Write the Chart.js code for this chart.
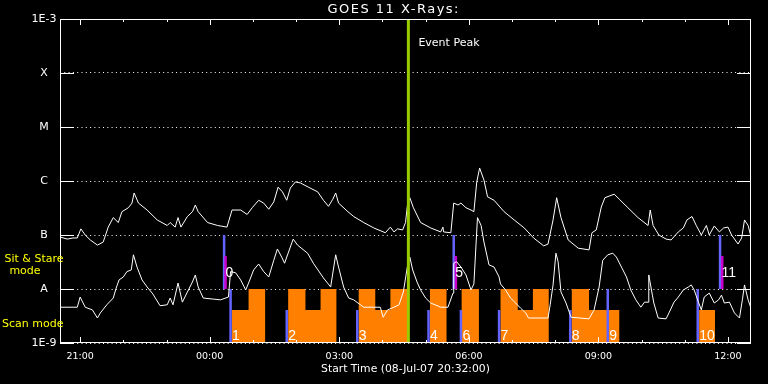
<!DOCTYPE html>
<html>
<head>
<meta charset="utf-8">
<title>GOES 11 X-Rays</title>
<script src="https://cdn.jsdelivr.net/npm/chart.js@4.4.1/dist/chart.umd.min.js"></script>
<style>
  html, body { margin: 0; padding: 0; background: #000; }
  canvas { display: block; background: #000; }
</style>
</head>
<body>
<canvas id="xrays" width="768" height="384"></canvas>
<script>
// time = minutes after the start (08-Jul-07 20:32:00), flux in W/m^2

// long channel (upper curve)
const longTimes = [0,10,18,24,29,35,42,52,60,67, 74,81,86,95,100,103,109,121,135,149,
  153,160,164,168,177,184,188,192,205,219, 232,239,251,260,267,276,283,290,297,303,
  309,315,320,327,334,345,358,366,373,379, 383,387,400,408,422,436,452,459,464,469,
  476,480,483,486,491,501,515,529,532,533, 543,547,553,557,564,571,575,579,583,589,
  594,603,617,631,645,658,672,678,685,690, 696,706,720,735,739,745,752,757,770,777,
  789,803,817,820,824,832,842,849,859,866, 871,878,884,891,898,902,909,916,922,928,
  933,942,947,951,956,960];
const longFlux = [9.2e-8,8.4e-8,8.8e-8,8.8e-8,1.3e-7,1.0e-7,8.1e-8,6.5e-8,7.4e-8,1.4e-7,
  2.1e-7,1.7e-7,2.7e-7,3.2e-7,3.9e-7,6.0e-7,3.9e-7,2.9e-7,1.9e-7,1.5e-7,
  1.7e-7,1.4e-7,2.1e-7,1.4e-7,2.2e-7,2.7e-7,3.6e-7,2.7e-7,1.7e-7,1.5e-7,
  1.4e-7,2.9e-7,2.9e-7,2.4e-7,3.2e-7,4.4e-7,3.9e-7,3.0e-7,4.1e-7,7.7e-7,
  6.3e-7,4.4e-7,7.4e-7,9.6e-7,9.2e-7,7.7e-7,6.3e-7,4.4e-7,3.4e-7,4.6e-7,
  6.0e-7,3.9e-7,2.7e-7,2.2e-7,1.7e-7,1.35e-7,1.1e-7,1.4e-7,1.14e-7,1.3e-7,
  1.24e-7,1.7e-7,3.9e-7,4.9e-7,3.2e-7,1.7e-7,1.35e-7,1.14e-7,1.4e-7,1.14e-7,
  1.1e-7,3.9e-7,3.6e-7,3.9e-7,3.2e-7,2.9e-7,2.7e-7,9.6e-7,1.74e-6,1.04e-6,
  5.1e-7,4.4e-7,2.7e-7,1.9e-7,1.35e-7,8.8e-8,6.3e-8,6.8e-8,1.9e-7,4.9e-7,
  2.1e-7,8.1e-8,5.7e-8,5.3e-8,1.1e-7,1.24e-7,3.3e-7,4.9e-7,5.7e-7,4.6e-7,
  3.2e-7,2.1e-7,1.5e-7,2.9e-7,1.5e-7,1.0e-7,8.4e-8,8.1e-8,1.14e-7,1.35e-7,
  1.9e-7,2.2e-7,1.5e-7,1.0e-7,1.5e-7,1.0e-7,1.47e-7,1.14e-7,1.35e-7,1.4e-7,
  1.0e-7,6.8e-8,8.8e-8,1.9e-7,1.5e-7,9.2e-8];

// short channel (lower curve)
const shortTimes = [0,24,28,35,45,52,56,65,74,78, 82,88,93,99,102,107,114,121,129,139,
  149,153,157,164,170,177,184,188,192,199, 213,223,234,237,244,251,258,262,269,276,
  283,290,297,302,308,312,320,324,330,344, 352,366,376,383,387,394,401,408,414,422,
  445,449,455,464,471,477,483,486,490,496, 501,508,515,529,539,546,547,551,557,564,
  571,575,580,585,589,596,603,610,612,619, 626,633,640,647,651,678,681,685,689,692,
  696,703,710,735,742,749,754,761,768,773, 780,787,793,800,807,812,817,818,823,825,
  831,842,846,853,859,866,873,877,881,887, 891,895,902,909,915,919,923,930,937,944,
  948,951,956,960];
const shortFlux = [4.6e-9,4.6e-9,7.1e-9,4.6e-9,4.1e-9,2.9e-9,3.6e-9,5.1e-9,6.8e-9,1.04e-8,
  1.47e-8,1.67e-8,2.1e-8,2.25e-8,4.3e-8,2.55e-8,1.47e-8,1.09e-8,8.1e-9,4.9e-9,
  5.1e-9,6.8e-9,5.1e-9,1.29e-8,5.7e-9,8.8e-9,1.35e-8,1.82e-8,1.09e-8,6.8e-9,
  6.5e-9,6.3e-9,7.1e-9,2.1e-8,2.0e-8,1.47e-8,9.6e-9,1.29e-8,2.25e-8,2.9e-8,
  2.1e-8,1.67e-8,3.4e-8,5.5e-8,3.9e-8,3.0e-8,6.0e-8,8.4e-8,6.5e-8,4.6e-8,
  3.0e-8,1.6e-8,1.09e-8,4.3e-8,2.55e-8,1.09e-8,6.8e-9,6.3e-9,5.5e-9,4.6e-9,
  4.6e-9,3.0e-9,4.1e-9,4.6e-9,5.1e-9,8.8e-9,2.8e-8,3.9e-8,2.25e-8,1.35e-8,
  9.6e-9,6.8e-9,5.5e-9,4.6e-9,4.6e-9,8.4e-9,3.0e-8,3.2e-8,2.55e-8,1.82e-8,
  9.6e-9,1.24e-8,2.1e-7,1.5e-7,7.4e-8,2.8e-8,2.55e-8,1.67e-8,1.24e-8,9.6e-9,
  6.8e-9,5.5e-9,4.4e-9,3.6e-9,2.9e-9,2.9e-9,5.1e-9,1.19e-8,4.6e-8,3.2e-8,
  8.8e-9,5.5e-9,3.0e-9,2.8e-9,4.1e-9,1.09e-8,3.4e-8,4.3e-8,4.6e-8,3.9e-8,
  2.55e-8,1.67e-8,9.6e-9,6.3e-9,4.6e-9,5.7e-9,5.7e-9,1.82e-8,7.7e-9,5.5e-9,
  2.9e-9,2.8e-9,3.6e-9,5.7e-9,7.1e-9,9.6e-9,1.09e-8,1.19e-8,9.6e-9,5.7e-9,
  4.1e-9,7.1e-9,8.4e-9,5.5e-9,6.3e-9,7.7e-9,5.5e-9,5.7e-9,3.6e-9,2.9e-9,
  6.3e-9,1.19e-8,6.3e-9,4.4e-9];

// axes
const yTickValues = [1e-9, 1e-8, 1e-7, 1e-6, 1e-5, 1e-4, 1e-3];
const yTickLabels = ["1E-9", "A", "B", "C", "M", "X", "1E-3"];
const xLabelMinutes = [28, 208, 388, 568, 748, 928];
const xTickLabels = ["21:00", "00:00", "03:00", "06:00", "09:00", "12:00"];
const hourMinutes = [28, 88, 148, 208, 268, 328, 388, 448, 508, 568, 628, 688, 748, 808, 868, 928];

const eventPeak = 484;

// scan mode blocks (start, end, level)
const scanStart = [239, 262, 317, 341, 362, 415, 438, 459, 514, 558, 612, 636, 657, 711, 735, 888];
const scanEnd   = [262, 285, 341, 362, 384, 438, 459, 483, 537, 582, 636, 657, 679, 735, 777, 910];
const scanLevel = [4.1e-9, 1e-8, 1e-8, 4.1e-9, 1e-8, 1e-8, 4.1e-9, 1e-8, 1e-8, 1e-8, 1e-8, 4.1e-9, 1e-8, 1e-8, 4.1e-9, 4.1e-9];

// scan starts (blue markers)
const scanMarkTimes = [237, 315, 413, 512, 557, 610, 709, 761, 886];
const scanMarkTop   = [1e-8, 4.1e-9, 4.1e-9, 4.1e-9, 4.1e-9, 4.1e-9, 4.1e-9, 1e-8, 1e-8];
const scanNumbers   = ["1", "2", "3", "4", "6", "7", "8", "9", "10"];

// sit & stare starts
const sitMarkTimes  = [228, 547, 917];
const sitDwellTimes = [230, 550, 920];
const sitNumbers    = ["0", "5", "11"];

const FLOOR = 1e-9;
const ORANGE = "#ff8000";
const BLUE = "#6464ff";
const MAGENTA = "#cc00cc";
const GREEN = "#99cc00";

function vLines(times, tops, bottom) {
    const pts = [];
    times.forEach((t, i) => {
        pts.push({ x: t, y: Array.isArray(tops) ? tops[i] : tops });
        pts.push({ x: t, y: bottom });
        pts.push({ x: t, y: null });
    });
    return pts;
}

function scanSteps() {
    const pts = [{ x: 0, y: FLOOR }];
    scanStart.forEach((s, i) => {
        pts.push({ x: s, y: scanLevel[i] });
        if (scanStart[i + 1] !== scanEnd[i]) pts.push({ x: scanEnd[i], y: FLOOR });
    });
    pts.push({ x: 960, y: FLOOR });
    return pts;
}

const goesOverlay = {
    id: "goesOverlay",
    afterDraw(chart) {
        const { ctx, chartArea: a, scales: { x, y } } = chart;
        ctx.save();

        ctx.strokeStyle = "#fff";
        ctx.lineWidth = 1;
        ctx.strokeRect(a.left + 0.5, a.top + 0.5, a.right - a.left - 1, a.bottom - a.top - 1);

        ctx.beginPath();
        hourMinutes.forEach(m => {
            const px = Math.round(x.getPixelForValue(m)) + 0.5;
            const len = xLabelMinutes.includes(m) ? 6 : 3;
            ctx.moveTo(px, a.top);    ctx.lineTo(px, a.top + len);
            ctx.moveTo(px, a.bottom); ctx.lineTo(px, a.bottom - len);
        });
        yTickValues.forEach(v => {
            const py = Math.round(y.getPixelForValue(v)) + 0.5;
            ctx.moveTo(a.left, py);  ctx.lineTo(a.left + 14, py);
            ctx.moveTo(a.right, py); ctx.lineTo(a.right - 14, py);
        });
        ctx.stroke();

        ctx.fillStyle = "#fff";
        ctx.textBaseline = "middle";
        ctx.textAlign = "right";
        ctx.font = "13px 'DejaVu Sans'";
        ctx.letterSpacing = "1.5px";
        ctx.fillText("GOES 11 X-Rays:", 460, 10);
        ctx.letterSpacing = "0px";

        ctx.textAlign = "left";
        ctx.font = "11px 'DejaVu Sans'";
        ctx.fillText("Event Peak", x.getPixelForValue(eventPeak) + 10, 43);

        // mode captions
        ctx.fillStyle = "#ffff00";
        ctx.textAlign = "center";
        ctx.fillText("Sit & Stare", 34, 259);
        ctx.fillText("mode", 25, 271);
        ctx.textAlign = "left";
        ctx.fillText("Scan mode", 2, 324);

        // segment numbers
        ctx.fillStyle = "#fff";
        ctx.textBaseline = "alphabetic";
        ctx.font = "14px 'Liberation Sans'";
        const yScanBase = y.getPixelForValue(FLOOR) - 3;
        scanMarkTimes.forEach((t, i) => ctx.fillText(scanNumbers[i], x.getPixelForValue(t) + 1.5, yScanBase));
        const ySitBase = y.getPixelForValue(1e-8) - 12;
        sitMarkTimes.forEach((t, i) => ctx.fillText(sitNumbers[i], x.getPixelForValue(t) + 1.5, ySitBase));

        ctx.restore();
    }
};

new Chart(document.getElementById("xrays").getContext("2d"), {
    type: "line",
    data: {
        datasets: [
            {
                label: "Event Peak",
                data: [{ x: eventPeak, y: FLOOR }, { x: eventPeak, y: 1e-3 }],
                borderColor: GREEN, borderWidth: 3, pointRadius: 0, order: 0
            },
            {
                label: "1-8 A",
                data: longTimes.map((t, i) => ({ x: t, y: longFlux[i] })),
                borderColor: "#fff", borderWidth: 1, pointRadius: 0, order: 1
            },
            {
                label: "0.5-4 A",
                data: shortTimes.map((t, i) => ({ x: t, y: shortFlux[i] })),
                borderColor: "#fff", borderWidth: 1, pointRadius: 0, order: 2
            },
            {
                label: "Sit & Stare dwell",
                data: vLines(sitDwellTimes, 4.1e-8, 1e-8),
                borderColor: MAGENTA, borderWidth: 2.5, pointRadius: 0, order: 3
            },
            {
                label: "Sit & Stare start",
                data: vLines(sitMarkTimes, 1e-7, 1e-8),
                borderColor: BLUE, borderWidth: 2.5, pointRadius: 0, order: 4
            },
            {
                label: "Scan start",
                data: vLines(scanMarkTimes, scanMarkTop, FLOOR),
                borderColor: BLUE, borderWidth: 2.5, pointRadius: 0, order: 4
            },
            {
                label: "Scan mode",
                data: scanSteps(),
                stepped: true, fill: "start",
                backgroundColor: ORANGE, borderColor: ORANGE, borderWidth: 0,
                pointRadius: 0, order: 5
            }
        ]
    },
    options: {
        responsive: false,
        animation: false,
        layout: { padding: { top: 19, right: 17, left: 0, bottom: 0 } },
        plugins: { legend: { display: false }, tooltip: { enabled: false } },
        scales: {
            x: {
                type: "linear", min: 0, max: 960,
                afterFit: s => { s.height = 41; },
                afterBuildTicks: s => { s.ticks = xLabelMinutes.map(v => ({ value: v })); },
                grid: { display: false },
                border: { display: false },
                ticks: {
                    color: "#fff", padding: 0, autoSkip: false, maxRotation: 0,
                    font: { family: "DejaVu Sans", size: 9.5 },
                    callback: v => xTickLabels[xLabelMinutes.indexOf(v)]
                },
                title: {
                    display: true, text: "Start Time (08-Jul-07 20:32:00)", color: "#fff",
                    font: { family: "DejaVu Sans", size: 10.8 }, padding: { top: 0, bottom: 8 }
                }
            },
            y: {
                type: "logarithmic", min: 1e-9, max: 1e-3,
                afterFit: s => { s.width = 60; },
                afterBuildTicks: s => { s.ticks = yTickValues.map(v => ({ value: v })); },
                grid: { color: "#fff", drawTicks: false, lineWidth: 1 },
                border: { display: false, dash: [1, 3.3] },
                ticks: {
                    color: "#fff", padding: 3.5, crossAlign: "center",
                    font: { family: "DejaVu Sans", size: 11 },
                    callback: v => yTickLabels[yTickValues.indexOf(v)]
                }
            }
        }
    },
    plugins: [goesOverlay]
});
</script>
</body>
</html>
